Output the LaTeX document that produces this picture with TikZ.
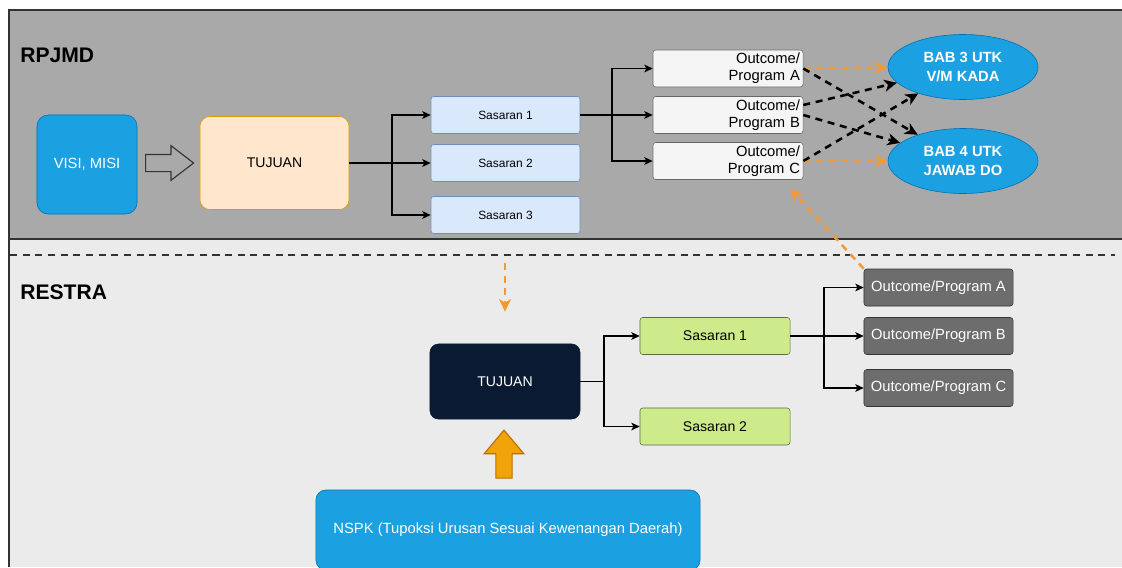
\documentclass[tikz,border=0pt]{standalone}
\usepackage{fontspec}
\setmainfont{Liberation Sans}
\usetikzlibrary{arrows.meta,calc,positioning,shapes.geometric,shapes.arrows}

\definecolor{panelgray}{HTML}{A9A9A9}
\definecolor{lowgray}{HTML}{EBEBEB}
\definecolor{edge}{HTML}{333333}
\definecolor{skyblue}{HTML}{1BA1E2}
\definecolor{skyedge}{HTML}{006EAF}
\definecolor{peach}{HTML}{FFE6CC}
\definecolor{peachedge}{HTML}{D79B00}
\definecolor{paleblue}{HTML}{DAE8FC}
\definecolor{paleedge}{HTML}{6C8EBF}
\definecolor{lime}{HTML}{CDEB8B}
\definecolor{limeedge}{HTML}{5E6B45}
\definecolor{navy}{HTML}{0B1A33}
\definecolor{steel}{HTML}{6D6D6D}
\definecolor{amber}{HTML}{F0A30A}
\definecolor{amberedge}{HTML}{BD7000}
\definecolor{dashorange}{HTML}{F29A38}

\begin{document}
\begin{tikzpicture}[x=0.025cm,y=-0.025cm,
  heading/.style={anchor=west,inner sep=0pt,font={\fontsize{15}{18}\selectfont\bfseries}},
  visi/.style={draw=skyedge,fill=skyblue,rounded corners=8pt,minimum width=2.5cm,minimum height=2.475cm,text=white,font={\fontsize{10.5}{12}\selectfont}},
  hollow/.style={single arrow,draw=edge,fill=panelgray,line width=0.8pt,minimum height=1.2cm,minimum width=0.84cm,inner sep=0.2cm,single arrow head extend=0.22cm,single arrow tip angle=75},
  peachbox/.style={draw=peachedge,fill=peach,rounded corners=7pt,minimum width=3.725cm,minimum height=2.325cm,font={\fontsize{10}{12}\selectfont}},
  sastop/.style={draw=paleedge,fill=paleblue,rounded corners=2pt,minimum width=3.725cm,minimum height=0.925cm,font={\fontsize{8.5}{10}\selectfont}},
  outtop/.style={draw=black!60,fill=white!96!black,rounded corners=2pt,minimum width=3.75cm,minimum height=0.925cm,inner xsep=0.075cm,inner ysep=0pt,text width=3.6cm,align=right,font={\fontsize{10.5}{12}\selectfont}},
  bab/.style={ellipse,draw=skyedge,fill=skyblue,minimum width=3.75cm,minimum height=1.625cm,inner sep=0pt,align=center,text=white,font={\fontsize{10.5}{13.5}\selectfont\bfseries}},
  navybox/.style={draw=navy,fill=navy,rounded corners=6pt,minimum width=3.75cm,minimum height=1.875cm,text=white,font={\fontsize{10}{12}\selectfont}},
  saslow/.style={draw=limeedge,fill=lime,rounded corners=2pt,minimum width=3.75cm,minimum height=0.925cm,font={\fontsize{10}{12}\selectfont}},
  outlow/.style={draw=edge,fill=steel,rounded corners=2pt,minimum width=3.725cm,minimum height=0.925cm,inner sep=0pt,text=white,font={\fontsize{10.5}{12}\selectfont}},
  lift/.style={single arrow,shape border rotate=90,draw=amberedge,fill=amber,line width=0.8pt,minimum height=1.2cm,minimum width=0.95cm,inner sep=0.19cm,single arrow head extend=0.29cm,single arrow tip angle=80},
  nspkbox/.style={draw=skyedge,fill=skyblue,rounded corners=7pt,minimum width=9.6cm,minimum height=2cm,text=white,font={\fontsize{10.5}{12}\selectfont}},
  arrow/.style={->,>={Stealth[length=6pt,width=5.5pt,inset=1.5pt]},line width=0.8pt,black},
  darrow/.style={-{Stealth[length=9pt,width=8.5pt,inset=2.5pt]},line width=1.8pt,dash pattern=on 5pt off 4pt,black},
  oarrow/.style={-{Stealth[length=9pt,width=8.5pt,inset=2.5pt]},line width=1.8pt,dash pattern=on 5pt off 4pt,dashorange}]

\useasboundingbox (0,0) rectangle (1122,567);
\fill[lowgray] (9,239) rectangle (1122,567);
\fill[panelgray] (9,10) rectangle (1122,239);
\draw[edge,line width=0.9pt] (1122,10) -- (9,10) -- (9,567);
\draw[edge,line width=1.3pt] (9,239) -- (1122,239);
\draw[edge,line width=1.6pt,dash pattern=on 5pt off 4pt] (10,255) -- (1115,255);

\node[heading] (rpjmd) at (20,55) {RPJMD};
\node[visi] (visi) at (87,164.5) {VISI, MISI};
\node[hollow] (push) at (164,163) {};
\node[peachbox] (tujuan) at (274.5,163) {TUJUAN};
\node[sastop] (s1) at (505.5,115) {Sasaran 1};
\node[sastop] (s2) at (505.5,163) {Sasaran 2};
\node[sastop] (s3) at (505.5,215) {Sasaran 3};
\node[outtop] (oa) at (728,68.5) {Outcome/\\Program A};
\node[outtop] (ob) at (728,115) {Outcome/\\Program B};
\node[outtop] (oc) at (728,161) {Outcome/\\Program C};
\node[bab] (bab3) at (963,67) {BAB 3 UTK\\V/M KADA};
\node[bab] (bab4) at (963,161) {BAB 4 UTK\\JAWAB DO};
\coordinate (j1) at (392,163);
\coordinate (j2) at (612,115);

\node[heading] (restra) at (20,292) {RESTRA};
\node[navybox] (tujuan2) at (505,381.5) {TUJUAN};
\node[lift] (up) at (504,459) {};
\node[nspkbox] (nspk) at (508,530) {NSPK (Tupoksi Urusan Sesuai Kewenangan Daerah)};
\node[saslow] (t1) at (715,336) {Sasaran 1};
\node[saslow] (t2) at (715,426.5) {Sasaran 2};
\node[outlow] (pa) at (938.5,287.5) {Outcome/Program A};
\node[outlow] (pb) at (938.5,336) {Outcome/Program B};
\node[outlow] (pc) at (938.5,388) {Outcome/Program C};
\coordinate (j3) at (604,381.5);
\coordinate (j4) at (824,336);
\coordinate (drop) at (505,263);

\draw[arrow] (tujuan) -- (j1) |- (s1);
\draw[arrow] (tujuan) -- (s2);
\draw[arrow] (j1) |- (s3);
\draw[arrow] (s1) -- (ob);
\draw[arrow] (j2) |- (oa);
\draw[arrow] (j2) |- (oc);

\draw[oarrow] (oa.east) -- (bab3);
\draw[oarrow] (oc.east) -- (bab4);
\draw[darrow] (oa.east) -- (bab4);
\draw[darrow] ([shift={(0,-10)}]ob.east) -- (bab3);
\draw[darrow] (ob.east) -- (bab4);
\draw[darrow] (oc.east) -- (bab3);

\draw[arrow] (tujuan2) -- (j3) |- (t1);
\draw[arrow] (j3) |- (t2);
\draw[arrow] (t1) -- (pb);
\draw[arrow] (j4) |- (pa);
\draw[arrow] (j4) |- (pc);

\draw[oarrow] (drop) -- ([shift={(0,-32)}]tujuan2.north);
\draw[oarrow] (pa.north west) -- ([shift={(-13,9)}]oc.south east);
\end{tikzpicture}
\end{document}
